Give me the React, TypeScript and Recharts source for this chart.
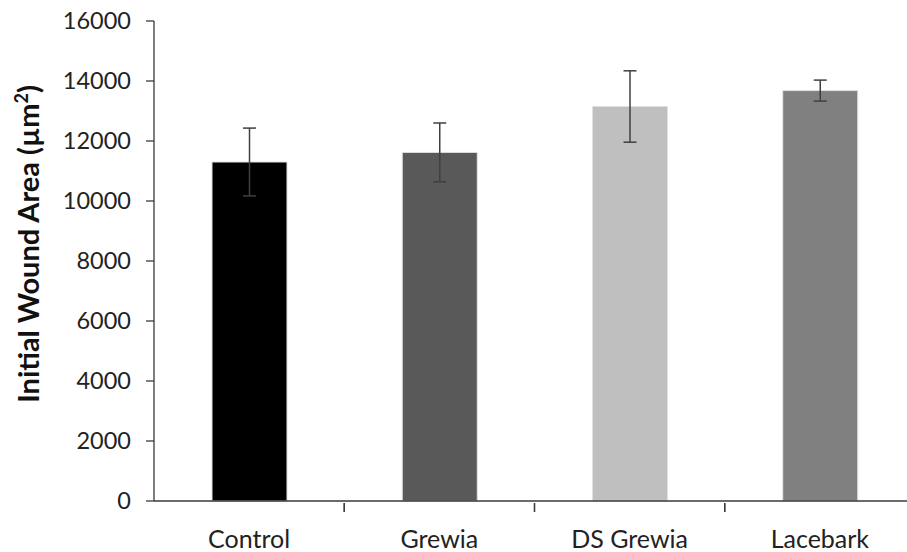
import React from 'react';
import { BarChart, Bar, XAxis, YAxis, ErrorBar, Cell } from 'recharts';

const categories = ['Control', 'Grewia', 'DS Grewia', 'Lacebark'];
const woundArea = [11300, 11620, 13150, 13680];
const woundErr = [1130, 980, 1190, 350];
const barColors = ['#000000', '#595959', '#bfbfbf', '#808080'];
const yTicks = [0, 2000, 4000, 6000, 8000, 10000, 12000, 14000, 16000];

const CHART_W = 915;
const CHART_H = 552;
const Y_AXIS_W = 154;
const AXIS_COLOR = '#3a3a3a';
const FONT = 'Lato, "Open Sans", sans-serif';

const data = categories.map((name, i) => ({ name, area: woundArea[i], err: woundErr[i] }));

// band width of one category, used for the Excel-style boundary ticks
const band = (CHART_W - Y_AXIS_W) / categories.length;

const CategoryTick = (props: any) => {
  const { x, y, payload, index } = props;
  return (
    <g>
      {index > 0 && <line x1={x - band / 2} x2={x - band / 2} y1={y} y2={y + 9} stroke={AXIS_COLOR} strokeWidth={1.3} />}
      <line x1={x + band / 2} x2={x + band / 2} y1={y} y2={y + 9} stroke={AXIS_COLOR} strokeWidth={1.3} />
      <text x={x} y={y + 45} textAnchor="middle" fontFamily={FONT} fontSize={25} fill="#222">
        {payload.value}
      </text>
    </g>
  );
};

const YTitle = () => (
  <text
    transform="translate(39, 244) rotate(-90)"
    textAnchor="middle"
    fontFamily={FONT}
    fontWeight="bold"
    fontSize={29}
    fill="#111"
  >
    Initial Wound Area (µm
    <tspan fontSize={18} dy={-11}>2</tspan>
    <tspan dy={11}>)</tspan>
  </text>
);

export default function App() {
  return (
    <div style={{ width: 907, height: 552, overflow: 'hidden', background: '#fff' }}>
      <style>{`body { margin: 0; }`}</style>
      <BarChart
        width={CHART_W}
        height={CHART_H}
        data={data}
        margin={{ top: 21, right: 0, bottom: 0, left: 0 }}
      >
        <XAxis
          dataKey="name"
          height={51}
          tickSize={0}
          tickLine={false}
          tick={<CategoryTick />}
          axisLine={{ stroke: AXIS_COLOR, strokeWidth: 1.3 }}
          interval={0}
        />
        <YAxis
          width={Y_AXIS_W}
          domain={[0, 16000]}
          ticks={yTicks}
          interval={0}
          tickSize={8}
          tickMargin={15}
          tick={{ fontFamily: FONT, fontSize: 23.5, fill: '#222' }}
          tickLine={{ stroke: AXIS_COLOR, strokeWidth: 1.3 }}
          axisLine={{ stroke: AXIS_COLOR, strokeWidth: 1.3 }}
          label={<YTitle />}
        />
        <Bar dataKey="area" barSize={75} isAnimationActive={false}>
          {data.map((d, i) => (
            <Cell key={d.name} fill={barColors[i]} stroke="#e0e0e0" strokeWidth={1} />
          ))}
          <ErrorBar dataKey="err" width={6.5} stroke="#404040" strokeWidth={1.5} isAnimationActive={false} />
        </Bar>
      </BarChart>
    </div>
  );
}
